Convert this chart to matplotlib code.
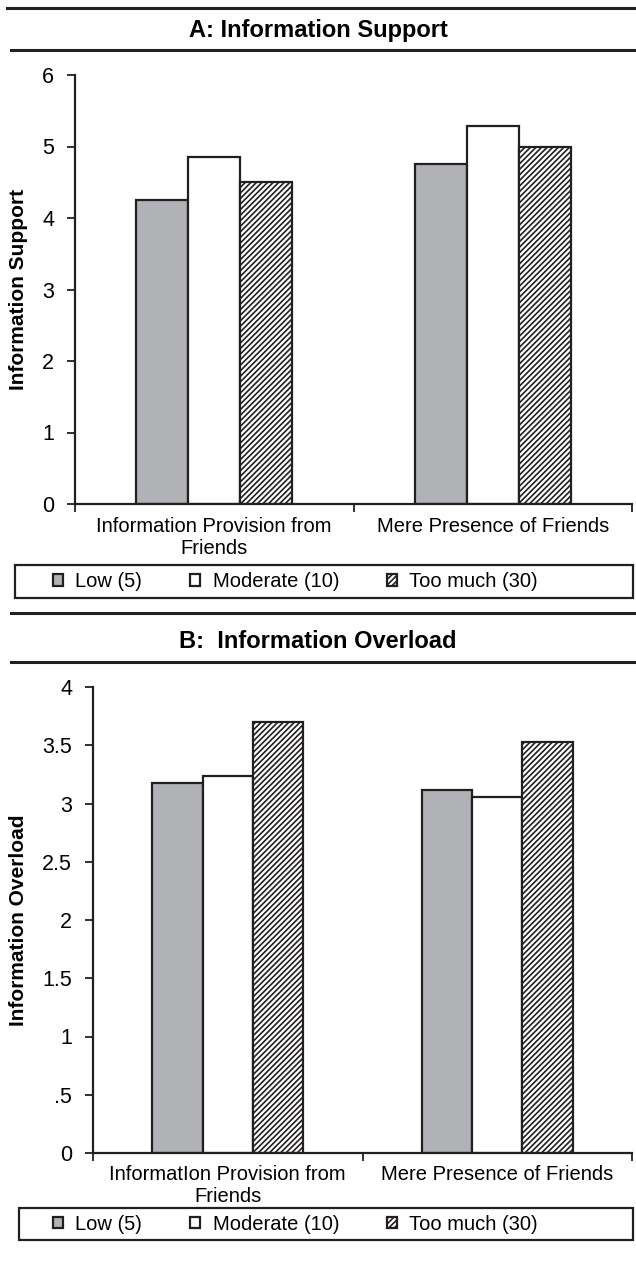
import numpy as np
import matplotlib
matplotlib.use('Agg')
import matplotlib.pyplot as plt
from matplotlib.lines import Line2D
from matplotlib.patches import Rectangle

plt.rcParams['font.family'] = ['Liberation Sans', 'DejaVu Sans']
plt.rcParams['hatch.linewidth'] = 1.2

# data
levels = ['Low (5)', 'Moderate (10)', 'Too much (30)']
cats_a = ['Information Provision from\nFriends', 'Mere Presence of Friends']
cats_b = ['InformatIon Provision from\nFriends', 'Mere Presence of Friends']
support = {'Low (5)': [4.25, 4.76], 'Moderate (10)': [4.85, 5.29], 'Too much (30)': [4.51, 5.0]}
overload = {'Low (5)': [3.18, 3.12], 'Moderate (10)': [3.24, 3.06], 'Too much (30)': [3.70, 3.53]}
yticks_a = [0, 1, 2, 3, 4, 5, 6]
ytick_labels_a = ['0', '1', '2', '3', '4', '5', '6']
yticks_b = [0, 0.5, 1, 1.5, 2, 2.5, 3, 3.5, 4]
ytick_labels_b = ['0', '.5', '1', '1.5', '2', '2.5', '3', '3.5', '4']

W, H = 636, 1263
fig = plt.figure(figsize=(W / 100, H / 100), dpi=100)

def fx(px):
    return px / W

def fy(py):
    return 1 - py / H

styles = {
    'Low (5)': dict(facecolor='#b1b2b6', hatch=None),
    'Moderate (10)': dict(facecolor='white', hatch=None),
    'Too much (30)': dict(facecolor='white', hatch='//////'),
}
edge = '#231f20'

def rule(y, x0=7, x1=636):
    fig.add_artist(Line2D([fx(x0), fx(x1)], [fy(y), fy(y)], transform=fig.transFigure,
                          color=edge, lw=2.2))

def panel(left, top, bottom, cats, data, yt, ytl, ylab, title, t_y, rules, leg_box):
    ax = fig.add_axes([fx(left), fy(bottom), fx(632) - fx(left), (bottom - top) / H])
    x = np.arange(len(cats))
    w = 0.187
    handles = []
    for i, lev in enumerate(levels):
        st = styles[lev]
        b = ax.bar(x + (i - 1) * w, data[lev], w, facecolor=st['facecolor'], hatch=st['hatch'],
                   edgecolor=edge, linewidth=1.6, label=lev)
        handles.append(b)
    ax.set_xlim(-0.5, 1.5)
    ax.set_ylim(yt[0], yt[-1])
    ax.set_yticks(yt)
    ax.set_yticklabels(ytl)
    ax.set_xticks([-0.5, 0.5, 1.5])
    ax.set_xticklabels([])
    ax.set_xticks(x, minor=True)
    ax.set_xticklabels(cats, minor=True)
    ax.tick_params(axis='x', which='minor', length=0, pad=9, labelsize=14.5)
    ax.tick_params(axis='x', which='major', direction='out', length=6, width=1.3, color=edge)
    ax.tick_params(axis='y', direction='out', length=6, width=1.3, color=edge, labelsize=15.5, pad=9)
    for s in ['top', 'right']:
        ax.spines[s].set_visible(False)
    for s in ['left', 'bottom']:
        ax.spines[s].set_linewidth(1.6)
        ax.spines[s].set_color(edge)
    ax.set_ylabel(ylab, fontsize=15, fontweight='bold')
    ax.yaxis.set_label_coords(-(left - 28) / (632 - left), 0.5)
    fig.text(0.5, fy(t_y), title, ha='center', va='center', fontsize=17, fontweight='bold')
    for r in rules:
        rule(*r)
    x0, y0, x1, y1 = leg_box
    fig.add_artist(Rectangle((fx(x0), fy(y1)), fx(x1) - fx(x0), (y1 - y0) / H,
                             transform=fig.transFigure, fill=False, edgecolor=edge, lw=1.6))
    fig.legend(handles=handles, loc='center left', ncol=3, frameon=False,
               bbox_to_anchor=(fx(53), fy((y0 + y1) / 2)), fontsize=14.5,
               handlelength=0.5, handleheight=0.5, handletextpad=0.6, columnspacing=2.4,
               borderpad=0, borderaxespad=0)
    return ax

axa = panel(75, 75, 504, cats_a, support, yticks_a, ytick_labels_a, 'Information Support',
            'A: Information Support', 30, [(8, 7), (50, 11)], (15, 565, 633, 598))
axb = panel(93, 687, 1153, cats_b, overload, yticks_b, ytick_labels_b, 'Information Overload',
            'B:  Information Overload', 641, [(613, 11), (662, 11)], (19, 1208, 633, 1240))

fig.savefig('out.png', dpi=100)
